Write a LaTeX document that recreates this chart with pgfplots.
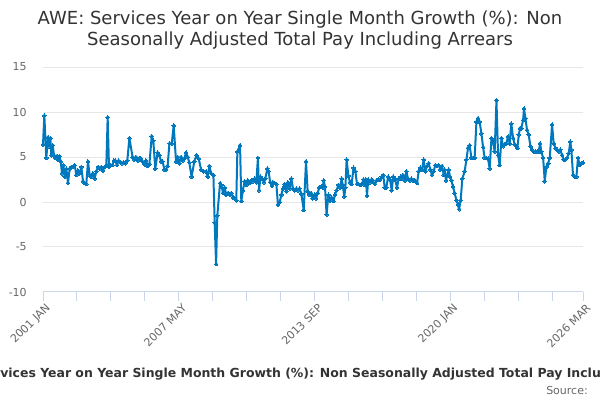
\documentclass[border=0pt]{standalone}
\usepackage{fontspec}
\setmainfont{DejaVu Sans}
\usepackage{pgfplots}
\pgfplotsset{compat=1.18}
\definecolor{series}{RGB}{0,120,190}
\definecolor{gridc}{RGB}{230,230,230}
\definecolor{axisc}{RGB}{204,214,235}
\definecolor{labc}{RGB}{102,102,102}
\definecolor{titc}{RGB}{51,51,51}
\begin{document}
\begin{tikzpicture}[x=0.75pt,y=0.75pt]
\useasboundingbox (0,0) rectangle (600,400);
\clip (0,0) rectangle (600,400);
\node[anchor=base, font=\fontsize{13.5}{16}\selectfont, text=titc, inner sep=0pt] at (300,375) {AWE: Services Year on Year Single Month Growth (\%): Non};
\node[anchor=base, font=\fontsize{13.5}{16}\selectfont, text=titc, inner sep=0pt] at (300,354) {Seasonally Adjusted Total Pay Including Arrears};
\node[anchor=base west, font=\fontsize{9.35}{11}\bfseries\selectfont, text=titc, inner sep=0pt] at (0,22.7) {\llap{AWE: Ser}vices Year on Year Single Month Growth (\%): Non Seasonally Adjusted Total Pay Including Arrears};
\node[anchor=base east, font=\fontsize{8.25}{10}\selectfont, text=labc, inner sep=0pt] at (588,5.7) {Source:};
\begin{axis}[
  at={(32.25pt,81pt)}, anchor=south west,
  scale only axis, width=405pt, height=168.75pt,
  xmin=0, xmax=302, ymin=-10, ymax=15,
  axis x line*=bottom, axis y line*=left,
  y axis line style={draw=none},
  x axis line style={draw=axisc, line width=0.75pt},
  ytick={-10,-5,0,5,10,15},
  yticklabels={-10,-5,0,5,10,15},
  ymajorgrids, grid style={draw=gridc, line width=0.75pt},
  ytick style={draw=none},
  yticklabel style={font=\fontsize{8.25}{10}\selectfont, text=labc, inner sep=0pt, anchor=east, xshift=-12pt},
  xtick={0,76,152,228,302},
  xticklabels={2001 JAN,2007 MAY,2013 SEP,2020 JAN,2026 MAR},
  minor xtick={19,38,57,95,114,133,171,190,209,247,266,285},
  xtick align=outside, major tick length=7pt, minor tick length=7pt,
  xtick style={draw=axisc, line width=0.75pt},
  minor x tick style={draw=axisc, line width=0.75pt},
  xticklabel style={font=\fontsize{8.25}{10}\selectfont, text=labc, inner sep=0pt, rotate=45, anchor=east, yshift=-5.5pt, xshift=0.5pt},
  clip=false,
]
\addplot[series, line width=1.5pt, line join=round, mark=*, mark size=1.4pt, mark options={fill=series, draw=series, line width=0pt}] coordinates {
(0,6.4)(0.75,9.6)(1.86,4.9)(2.8,7.2)(3.36,6.2)(4.1,7.1)(4.66,5.2)(5.41,6.3)(6.15,5.2)(6.9,4.9)(7.83,5.1)(8.39,4.7)(9.13,5.1)(9.88,4.5)(10.62,3.2)(11.37,4.1)(12.12,2.8)(13.05,3.7)(13.98,2.1)(14.91,3.7)(15.84,3.9)(16.78,3.9)(17.71,4.1)(18.64,3.0)(19.57,3.5)(20.5,3.2)(21.44,3.9)(22.37,2.3)(23.3,2.1)(24.23,2.0)(25.16,4.5)(26.1,3.0)(27.03,2.8)(27.96,3.2)(28.89,2.6)(29.82,3.4)(30.76,3.9)(31.69,3.7)(32.62,3.9)(33.55,3.5)(34.48,3.9)(35.42,4.1)(36.16,9.4)(36.91,3.9)(37.84,4.1)(38.77,4.1)(39.7,4.6)(40.45,4.6)(41.38,4.1)(42.31,4.6)(43.24,4.4)(44.18,4.3)(45.11,4.4)(46.04,4.3)(47.16,4.6)(48.3,7.1)
(50.1,5.0)(51.1,4.7)(52.0,5.0)(52.9,4.6)(53.9,4.9)(54.8,4.8)(55.7,4.5)(56.7,4.2)(57.6,4.6)(58.5,4.0)(59.5,4.2)(60.8,7.3)(61.7,6.8)(62.8,3.7)(64.1,5.5)(65.1,5.2)(66.0,4.5)(66.9,4.5)(67.9,3.6)(68.8,3.6)(69.7,4.0)(70.7,6.5)(72.0,6.5)(73.1,8.5)(74.4,4.5)(75.3,5.0)(76.2,4.3)(77.2,5.0)(78.1,4.6)(79.0,4.8)(80.0,5.5)(80.9,5.0)(81.8,4.4)(83.1,2.8)(84.6,4.5)(85.9,5.2)(87.1,4.8)(88.4,3.6)(89.7,3.4)(91.2,3.4)(92.1,2.8)(93.0,4.0)(94.0,3.2)(95.3,3.0)(96.0,-2.3)(96.8,-6.9)(97.5,-1.5)(99.0,2.1)
(99.7,1.9)(100.7,1.0)(101.6,1.6)(102.5,0.8)(103.5,1.0)(104.4,0.8)(105.3,1.0)(106.3,0.5)(107.2,0.4)(108.1,0.2)(108.7,5.6)(110.2,6.3)(110.9,0.1)(111.8,1.3)(112.8,2.3)(113.7,1.9)(114.6,2.4)(115.6,2.1)(116.5,2.4)(117.4,2.3)(118.4,2.6)(119.3,2.2)(120.2,4.9)(120.8,1.3)(121.7,2.8)(122.5,2.6)(123.6,2.2)(124.3,2.6)(125.5,3.7)(126.2,3.4)(127.0,2.2)(128.1,1.8)(128.6,2.2)(129.6,2.1)(130.5,2.0)(131.4,-0.3)(132.4,0.0)(133.3,0.8)(134.2,1.5)(135.2,2.0)(136.1,1.2)(137.0,2.2)(138.0,1.5)(138.9,2.6)(139.8,1.5)(140.7,1.3)(141.7,1.5)(142.6,1.3)(143.5,1.5)(144.5,0.9)(145.8,-0.9)
(147.1,4.5)(148.0,1.2)(149.0,0.8)(149.9,1.0)(150.8,0.4)(151.8,0.8)(152.7,0.4)(153.6,1.0)(154.5,1.6)(155.5,1.7)(156.4,1.6)(157.0,2.4)(157.7,1.7)(158.6,-1.4)(159.6,0.8)(160.5,0.1)(161.4,0.5)(162.4,0.1)(163.3,0.8)(164.2,1.3)(165.2,1.9)(166.1,1.6)(167.0,2.6)(167.6,1.9)(168.5,0.6)(169.1,1.6)(169.8,4.7)(170.8,2.9)(171.7,2.2)(172.6,2.0)(173.7,3.8)(174.7,3.4)(175.6,2.0)(176.5,2.0)(177.5,1.9)(178.4,2.0)(179.2,2.5)(179.9,1.9)(180.6,2.5)(181.2,0.7)(181.9,2.5)(182.9,2.2)(183.8,2.5)(184.7,2.2)(185.7,2.0)(186.6,2.4)(187.5,2.5)(188.5,2.5)(189.4,2.8)(190.3,3.0)(191.1,1.6)(192.0,1.6)(193.0,2.8)(194.1,2.5)(195.0,1.3)(195.9,2.8)(196.9,2.5)(198.0,1.6)(198.9,2.6)(200.0,2.8)
(200.4,2.6)(201.3,3.0)(202.3,2.4)(203.2,3.4)(204.1,2.6)(205.1,2.4)(206.0,2.6)(206.9,2.4)(207.9,2.4)(209.2,2.1)(210.1,3.4)(211.0,3.8)(212.0,3.6)(212.9,4.7)(213.8,3.4)(214.8,4.0)(215.7,4.3)(216.6,3.6)(217.6,3.0)(218.5,3.4)(219.4,4.1)(220.4,4.0)(221.3,4.1)(222.2,3.6)(223.2,4.0)(224.1,3.0)(224.6,3.6)(225.4,2.4)(226.1,3.0)(226.9,3.6)(227.6,2.8)(228.4,2.4)(229.3,1.7)(230.2,1.0)(231.2,0.2)(232.1,-0.3)(232.7,-0.8)(233.6,0.2)(234.5,2.6)(235.8,3.4)(236.8,4.7)(237.7,6.0)(238.6,6.3)(239.6,4.9)(240.5,4.9)(241.4,4.9)(242.4,8.9)(243.3,9.3)(244.2,8.9)(245.2,7.6)(246.1,6.1)(247.0,4.9)(248.0,4.9)
(248.9,4.8)(249.8,3.7)(250.8,7.1)(251.7,6.7)(252.6,5.6)(253.6,11.3)(254.5,5.2)(255.4,4.1)(256.4,7.1)(257.3,6.2)(258.2,6.4)(259.1,6.5)(260.1,7.3)(261.0,6.5)(261.9,8.7)(262.9,7.1)(263.8,6.4)(264.7,6.2)(265.3,6.0)(266.1,7.5)(266.8,8.2)(267.5,8.2)(268.5,9.1)(269.0,10.4)(269.8,9.3)(270.7,8.0)(271.6,7.5)(272.6,6.2)(273.5,5.8)(274.4,5.6)(275.4,5.6)(276.3,5.6)(277.2,5.6)(278.0,6.5)(278.7,5.6)(279.7,4.9)(280.6,2.3)(281.5,3.9)(282.5,4.3)(283.4,4.9)(284.7,8.6)(285.6,6.5)(286.6,6.0)(287.5,5.8)(288.4,5.6)(289.3,5.8)(290.3,5.2)(291.2,4.7)(292.1,4.7)(293.1,4.9)(294.0,5.4)(294.9,6.7)(295.5,5.8)(296.4,3.0)(297.4,2.8)(298.3,2.8)(299.2,4.9)(300.2,4.1)(301.1,4.3)(302.0,4.4)
};
\end{axis}
\end{tikzpicture}
\end{document}
